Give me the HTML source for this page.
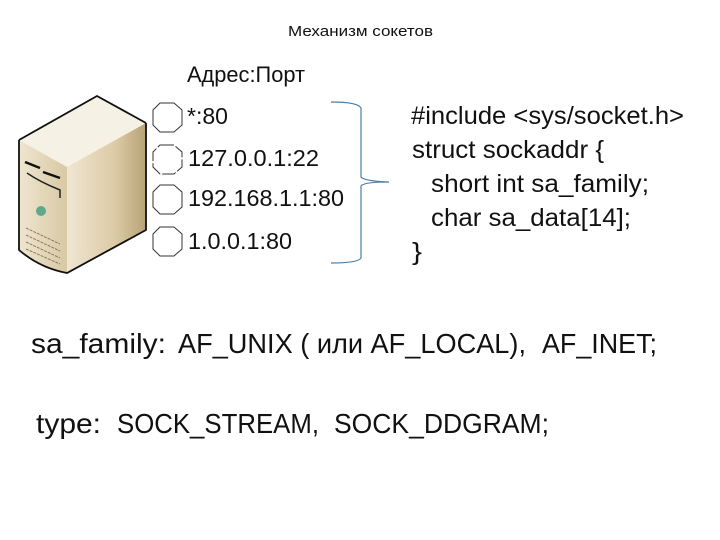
<!DOCTYPE html>
<html><head><meta charset="utf-8"><style>html,body{margin:0;padding:0;background:#fff}svg{display:block}text{font-family:"Liberation Sans",sans-serif;fill:#111}</style></head><body>
<svg width="720" height="540" viewBox="0 0 720 540" xmlns="http://www.w3.org/2000/svg">
<defs>
<linearGradient id="f" x1="0" x2="1" y1="0" y2="0"><stop offset="0" stop-color="#efe6d0"/><stop offset="1" stop-color="#d8c8a4"/></linearGradient>
<linearGradient id="r" x1="0" x2="1" y1="0" y2="0"><stop offset="0" stop-color="#efe6d2"/><stop offset=".6" stop-color="#dccba6"/><stop offset="1" stop-color="#b8a377"/></linearGradient>
</defs>
<text x="288" y="36" font-size="15" textLength="145" lengthAdjust="spacingAndGlyphs">Механизм сокетов</text>
<!-- server -->
<polygon points="19,140 97,96 146,123 67,167" fill="#f5f1e4"/>
<polygon points="19,140 67,167 67,273 45,268 19,250" fill="url(#f)"/>
<polygon points="67,167 146,123 146,230 67,273" fill="url(#r)"/>
<path d="M19,140 L97,96 L146,123 M146,123 V230 L67,273 Q40,268 19,250 V140" fill="none" stroke="#111" stroke-width="1.8"/>
<path d="M25,162 L40,168 M43,172 L60,178" stroke="#111" stroke-width="2.5" fill="none"/>
<path d="M27,173 Q40,182 60,190 V198" stroke="#222" stroke-width="1.5" fill="none"/>
<circle cx="41" cy="211" r="5" fill="#5fa88c"/>
<path d="M26,228 L60,244 M26,235 L60,251 M26,242 L60,258 M26,249 L60,264" stroke="#8a7b5c" stroke-width="1" stroke-dasharray="3 1" fill="none"/>
<!-- octagons -->
<g fill="#fff" stroke="#333" stroke-width="1">
<polygon points="160,103 174,103 182,110 182,125 174,132 160,132 153,125 153,110"/>
<polygon points="160,145 174,145 182,152 182,167 174,174 160,174 153,167 153,152" stroke-dasharray="14 2"/>
<polygon points="160,185 174,185 182,192 182,207 174,214 160,214 153,207 153,192"/>
<polygon points="160,227 174,227 182,234 182,249 174,256 160,256 153,249 153,234"/>
</g>
<text x="187" y="82" font-size="22" textLength="118" lengthAdjust="spacingAndGlyphs">Адрес:Порт</text>
<text x="187" y="124" font-size="23" textLength="41" lengthAdjust="spacingAndGlyphs">*:80</text>
<text x="188" y="166" font-size="23" textLength="131" lengthAdjust="spacingAndGlyphs">127.0.0.1:22</text>
<text x="188" y="206" font-size="23" textLength="156" lengthAdjust="spacingAndGlyphs">192.168.1.1:80</text>
<text x="188" y="249" font-size="23" textLength="104" lengthAdjust="spacingAndGlyphs">1.0.0.1:80</text>
<!-- brace -->
<path d="M331,102 Q358,102 361,108 V177 Q364,181 389,182 Q364,182 361,186 V258 Q358,263 331,263" fill="none" stroke="#4a7ea5" stroke-width="1.2"/>
<!-- code -->
<g font-size="25">
<text x="411" y="124" textLength="273" lengthAdjust="spacingAndGlyphs">#include &lt;sys/socket.h&gt;</text>
<text x="412" y="158" textLength="192" lengthAdjust="spacingAndGlyphs">struct sockaddr {</text>
<text x="431" y="192" textLength="218" lengthAdjust="spacingAndGlyphs">short int sa_family;</text>
<text x="431" y="226" textLength="200" lengthAdjust="spacingAndGlyphs">char sa_data[14];</text>
<text x="412" y="260" textLength="10" lengthAdjust="spacingAndGlyphs">}</text>
</g>
<g font-size="28">
<text x="31" y="353" textLength="135" lengthAdjust="spacingAndGlyphs">sa_family:</text>
<text x="178" y="353" textLength="348" lengthAdjust="spacingAndGlyphs">AF_UNIX ( или AF_LOCAL),</text>
<text x="542" y="353" textLength="115" lengthAdjust="spacingAndGlyphs">AF_INET;</text>
<text x="36" y="433" textLength="65" lengthAdjust="spacingAndGlyphs">type:</text>
<text x="117" y="433" textLength="202" lengthAdjust="spacingAndGlyphs">SOCK_STREAM,</text>
<text x="334" y="433" textLength="215" lengthAdjust="spacingAndGlyphs">SOCK_DDGRAM;</text>
</g>
</svg>
</body></html>
